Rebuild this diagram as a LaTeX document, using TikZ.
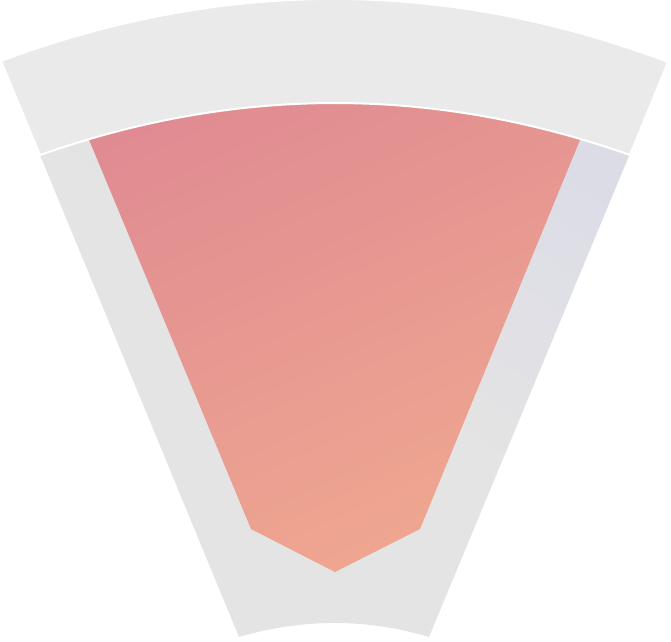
\documentclass[tikz,border=0pt]{standalone}
\usetikzlibrary{shadings}
\definecolor{bandgray}{HTML}{EAEAEB}
\definecolor{bodytop}{HTML}{DCDCE7}
\definecolor{bodybot}{HTML}{E4E4E4}
\definecolor{pinktop}{HTML}{DF8A92}
\definecolor{pinkbot}{HTML}{F0A890}
\tikzset{
  bandstyle/.style={fill=bandgray, draw=white, line width=2pt, line join=round},
  bodystyle/.style={top color=bodytop, bottom color=bodybot, middle color=bodybot, shading angle=-35},
  pinkstyle/.style={top color=pinktop, bottom color=pinkbot, shading angle=25},
}
\begin{document}
\begin{tikzpicture}[x=1pt,y=-1pt]
\useasboundingbox (0,0) rectangle (671,641);
% slice body
\path[bodystyle] (9,80) -- (660.5,80) -- (429,637)
  .. controls (366.3,618.3) and (303,618.3) .. (239,637) -- cycle;
% topping
\path[pinkstyle] (51.7,50) -- (617,50) -- (420,529) -- (335,572) -- (251,529) -- cycle;
% crust band
\path[bandstyle] (1,61) .. controls (223.7,-22) and (446,-21.7) .. (668,62)
  -- (630,155) .. controls (433.3,85.7) and (236.7,85.7) .. (40,155) -- cycle;
\end{tikzpicture}
\end{document}
